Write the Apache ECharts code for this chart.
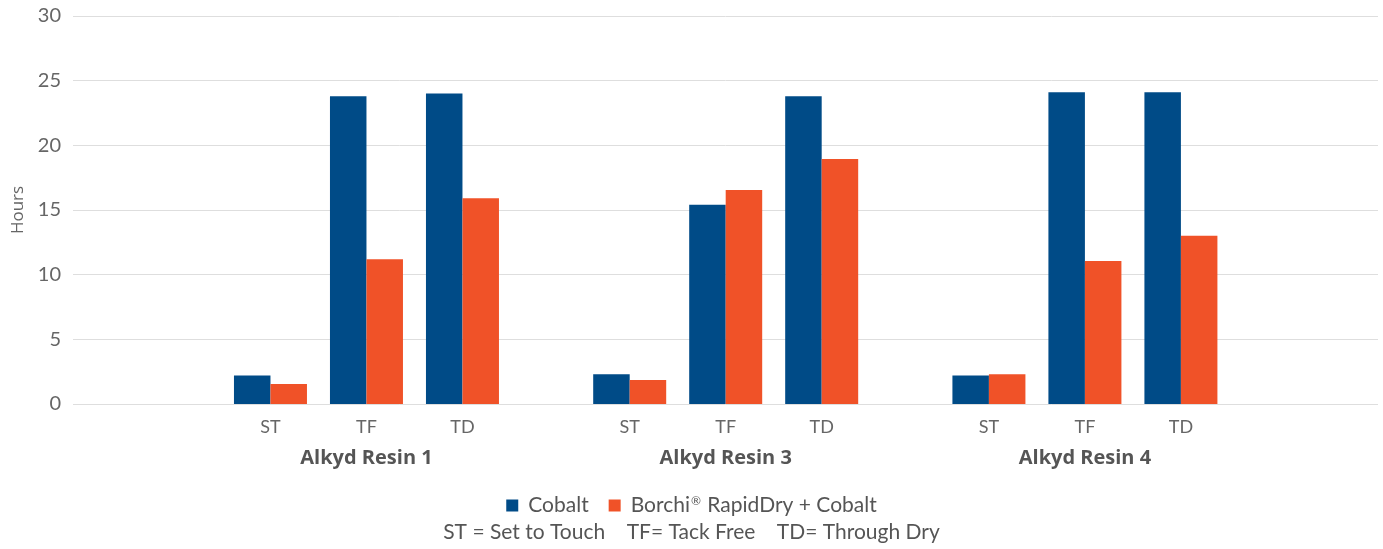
<!DOCTYPE html>
<html>
<head>
<meta charset="utf-8">
<script src="https://cdn.jsdelivr.net/npm/echarts@6/dist/echarts.min.js"></script>
<style>
  html, body { margin: 0; padding: 0; background: #fff; }
  #chart { width: 1383px; height: 549px; }
</style>
</head>
<body>
<div id="chart"></div>
<script>
// data
var groups = ['Alkyd Resin 1', 'Alkyd Resin 3', 'Alkyd Resin 4'];
var stages = ['ST', 'TF', 'TD'];
var cobalt = [2.2, 23.8, 24.0, 2.3, 15.4, 23.8, 2.2, 24.1, 24.1];
var borchi = [1.55, 11.2, 15.9, 1.85, 16.55, 18.95, 2.3, 11.05, 13.0];
var yTicks = [0, 5, 10, 15, 20, 25, 30];

// layout of the x axis (one unit = distance between two stages)
var firstPos = 2.057;
var groupStep = 3.742;
var xMax = 13.594;

var stagePos = [];
var stageLabel = [];
var groupPos = [];
groups.forEach(function (g, gi) {
    stages.forEach(function (s, si) {
        stagePos.push(firstPos + gi * groupStep + si);
        stageLabel.push(s);
    });
    groupPos.push(firstPos + gi * groupStep + 1);
});

function lookup(v, pos, labels) {
    for (var i = 0; i < pos.length; i++) {
        if (Math.abs(pos[i] - v) < 0.01) return labels[i];
    }
    return '';
}

var font = 'Lato';
var chart = echarts.init(document.getElementById('chart'));

var option = {
    animation: false,
    textStyle: { fontFamily: font },
    color: ['#004b87', '#f05228'],
    grid: { left: 73, right: 5, top: 16, bottom: 145, outerBoundsMode: 'none' },
    legend: {
        left: 'center',
        top: 490,
        icon: 'rect',
        itemWidth: 12,
        itemHeight: 12,
        itemGap: 20,
        formatter: function (name) { return name.replace('®', '{sup|®}'); },
        textStyle: {
            fontFamily: font, fontSize: 21, color: '#555', padding: [0, 0, 0, 5],
            rich: {
                sup: { fontFamily: font, fontSize: 12, color: '#555', padding: [0, 1, 9, 1] }
            }
        },
        data: ['Cobalt', 'Borchi® RapidDry + Cobalt']
    },
    title: {
        left: 'center',
        top: 522,
        padding: 0,
        text: 'ST = Set to Touch    TF= Tack Free    TD= Through Dry',
        textStyle: { fontFamily: font, fontSize: 21, fontWeight: 'normal', color: '#555' }
    },
    xAxis: [{
        type: 'value',
        min: 0,
        max: xMax,
        axisLine: { show: false },
        axisTick: { show: false },
        splitLine: { show: false },
        axisLabel: {
            customValues: stagePos,
            margin: 14,
            fontSize: 18,
            color: '#666',
            formatter: function (v) { return lookup(v, stagePos, stageLabel); }
        }
    }, {
        type: 'value',
        min: 0,
        max: xMax,
        position: 'bottom',
        offset: 31,
        axisLine: { show: false },
        axisTick: { show: false },
        splitLine: { show: false },
        axisLabel: {
            customValues: groupPos,
            margin: 13,
            fontFamily: 'Open Sans',
            fontSize: 20,
            fontWeight: 'bold',
            color: '#555',
            formatter: function (v) { return lookup(v, groupPos, groups); }
        }
    }],
    yAxis: {
        type: 'value',
        min: yTicks[0],
        max: yTicks[yTicks.length - 1],
        interval: 5,
        name: 'Hours',
        nameLocation: 'middle',
        nameGap: 46,
        nameTextStyle: { fontFamily: 'Open Sans', fontSize: 17, color: '#666' },
        axisLine: { show: false },
        axisTick: { show: false },
        axisLabel: { fontSize: 20, color: '#666', margin: 12 },
        splitLine: { lineStyle: { color: '#dedede', width: 1 } }
    },
    series: [{
        name: 'Cobalt',
        type: 'bar',
        barWidth: 36.5,
        barGap: '0%',
        data: cobalt.map(function (v, i) { return [stagePos[i], v]; })
    }, {
        name: 'Borchi® RapidDry + Cobalt',
        type: 'bar',
        barWidth: 36.5,
        barGap: '0%',
        data: borchi.map(function (v, i) { return [stagePos[i], v]; })
    }]
};

chart.setOption(option);
</script>
</body>
</html>
